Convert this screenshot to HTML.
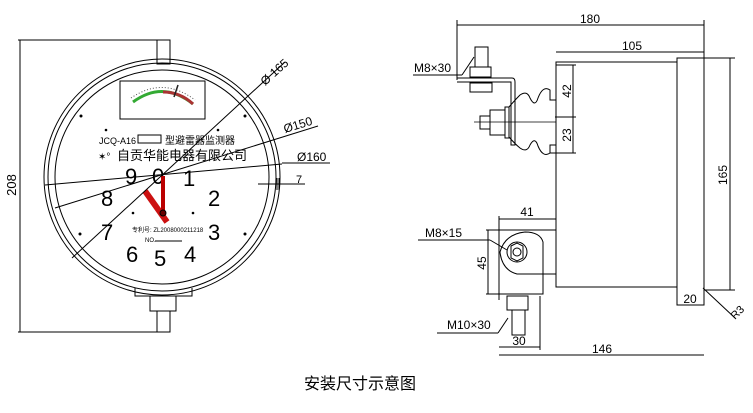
<!DOCTYPE html>
<html><head><meta charset="utf-8"><style>
html,body{margin:0;padding:0;background:#fff;}
svg{display:block;}
text{font-family:"Liberation Sans","Noto Sans CJK SC",sans-serif;fill:#000;}
</style></head><body>
<svg width="753" height="413" viewBox="0 0 753 413" xmlns="http://www.w3.org/2000/svg" fill="none" stroke="#000" stroke-width="1">
<line x1="20" y1="40" x2="20" y2="332"/>
<line x1="18" y1="40" x2="160" y2="40"/>
<line x1="18" y1="332" x2="160" y2="332"/>
<text x="16" y="185" font-size="13" stroke="none" transform="rotate(-90 16 185)" text-anchor="middle">208</text>
<rect x="157" y="40" width="13" height="24"/>
<circle cx="162" cy="177" r="118"/>
<circle cx="162" cy="177" r="114"/>
<circle cx="162" cy="177" r="107"/>
<rect x="120" y="81" width="85" height="38"/>
<path d="M133 102 Q163 80 193 104" stroke="#3a3" stroke-width="3"/>
<path d="M163 92 Q180 92 193 104" stroke="#a33" stroke-width="3"/>
<path d="M131 98 Q163 76 195 100" stroke="#555" stroke-dasharray="1 2"/>
<line x1="174" y1="97" x2="178" y2="85" stroke="#222" stroke-width="1.5"/>
<text x="99" y="144" font-size="9" stroke="none">JCQ-A16</text>
<rect x="138" y="135" width="23" height="8"/>
<text x="165" y="144" font-size="10" stroke="none">型避雷器监测器</text>
<text x="98" y="160" font-size="10" stroke="none">✶°</text>
<text x="117" y="160" font-size="13" stroke="none">自贡华能电器有限公司</text>
<g font-size="22" stroke="none">
<text x="125" y="184">9</text><text x="152" y="184">0</text><text x="183" y="186">1</text>
<text x="208" y="206">2</text><text x="101" y="206">8</text>
<text x="208" y="240">3</text><text x="101" y="240">7</text>
<text x="126" y="262">6</text><text x="154" y="266">5</text><text x="184" y="262">4</text>
</g>
<text x="132" y="232" font-size="6" stroke="none">专利号: ZL2008000211218</text>
<text x="145" y="242" font-size="6" stroke="none">NO.</text>
<line x1="155" y1="241" x2="182" y2="241"/>
<line x1="163" y1="213" x2="163" y2="176" stroke="#b00" stroke-width="4"/>
<line x1="145" y1="191" x2="167" y2="222" stroke="#c11" stroke-width="6"/>
<circle cx="163" cy="213" r="3" fill="#600"/>
<g fill="#000" stroke="none">
<circle cx="81" cy="116" r="1.5"/><circle cx="245" cy="116" r="1.5"/>
<circle cx="80" cy="234" r="1.5"/><circle cx="245" cy="234" r="1.5"/>
<circle cx="133" cy="213" r="1.3"/><circle cx="193" cy="213" r="1.3"/>
<circle cx="106" cy="130" r="1.3"/><circle cx="218" cy="130" r="1.3"/>
</g>
<path d="M135 288 L135 296 L192 296 L192 288"/>
<rect x="150" y="296" width="26" height="15"/>
<rect x="157" y="311" width="13" height="21"/>
<line x1="72" y1="258" x2="285" y2="62"/>
<text x="265" y="86" font-size="12" stroke="none" transform="rotate(-42 265 86)">Ø 165</text>
<line x1="55" y1="208" x2="318" y2="126"/>
<text x="285" y="133" font-size="12" stroke="none" transform="rotate(-17 285 133)">Ø150</text>
<line x1="45" y1="185" x2="282" y2="164"/>
<line x1="282" y1="163" x2="330" y2="163"/>
<text x="297" y="161" font-size="12" stroke="none">Ø160</text>
<line x1="258" y1="184" x2="305" y2="184"/>
<line x1="277" y1="178" x2="277" y2="190"/><line x1="279" y1="178" x2="279" y2="190"/>
<text x="296" y="183" font-size="11" stroke="none">7</text>
<line x1="457" y1="25" x2="704" y2="25"/>
<line x1="457" y1="20" x2="457" y2="80"/>
<line x1="704" y1="20" x2="704" y2="305"/>
<text x="590" y="23" font-size="12" stroke="none" text-anchor="middle">180</text>
<line x1="556" y1="52" x2="704" y2="52"/>
<text x="632" y="50" font-size="12" stroke="none" text-anchor="middle">105</text>
<rect x="556" y="62" width="121" height="225"/>
<rect x="677" y="58" width="27" height="247"/>
<line x1="704" y1="58" x2="735" y2="58"/><line x1="704" y1="290" x2="735" y2="290"/>
<line x1="730" y1="58" x2="730" y2="290"/>
<text x="727" y="175" font-size="12" stroke="none" transform="rotate(-90 727 175)" text-anchor="middle">165</text>
<line x1="573" y1="65" x2="573" y2="153"/>
<line x1="556" y1="65" x2="576" y2="65"/><line x1="555" y1="117" x2="576" y2="117"/><line x1="550" y1="153" x2="576" y2="153"/>
<text x="571" y="91" font-size="12" stroke="none" transform="rotate(-90 571 91)" text-anchor="middle">42</text>
<text x="571" y="135" font-size="12" stroke="none" transform="rotate(-90 571 135)" text-anchor="middle">23</text>
<rect x="475" y="47" width="13" height="20"/>
<rect x="470" y="67" width="21" height="10"/>
<path d="M457 78 L512 78 Q515 78 515 82 L515 145 L511 145 L511 82 L457 82"/>
<rect x="470" y="83" width="22" height="9"/>
<line x1="413" y1="75" x2="462" y2="75"/><line x1="462" y1="75" x2="474" y2="57"/>
<text x="414" y="72" font-size="12" stroke="none">M8×30</text>
<line x1="474" y1="122" x2="556" y2="122" stroke-width="0.8"/>
<rect x="480" y="116" width="10" height="13"/>
<rect x="490" y="110" width="15" height="25"/>
<rect x="505" y="107" width="4" height="31"/>
<path d="M509 107 Q515 100 520 95 Q527 90 530 98 Q535 108 538 98 Q543 85 550 90 L550 100 L556 100"/>
<path d="M509 137 Q515 144 520 148 Q527 153 530 145 Q535 136 538 146 Q543 158 550 153 L550 145 L556 145"/>
<line x1="499" y1="216" x2="499" y2="300"/>
<line x1="499" y1="219" x2="556" y2="219"/>
<text x="527" y="216" font-size="12" stroke="none" text-anchor="middle">41</text>
<path d="M486 230 L556 230 M486 294 L543 294 L543 242 Q540 232 525 232 Q505 234 500 252 Q502 270 517 274 L556 274"/>
<circle cx="517" cy="252" r="10"/>
<polygon points="511,246 517,243 523,246 523,258 517,261 511,258"/>
<circle cx="517" cy="252" r="4"/>
<line x1="488" y1="230" x2="488" y2="294"/>
<text x="486" y="263" font-size="12" stroke="none" transform="rotate(-90 486 263)" text-anchor="middle">45</text>
<line x1="418" y1="240" x2="490" y2="240"/><line x1="490" y1="240" x2="507" y2="250"/>
<text x="425" y="237" font-size="12" stroke="none">M8×15</text>
<rect x="507" y="296" width="21" height="14"/>
<rect x="512" y="310" width="13" height="25"/>
<line x1="437" y1="333" x2="498" y2="333"/><line x1="498" y1="333" x2="508" y2="318"/>
<text x="447" y="329" font-size="12" stroke="none">M10×30</text>
<line x1="499" y1="347" x2="540" y2="347"/>
<line x1="540" y1="296" x2="540" y2="350"/>
<text x="519" y="345" font-size="12" stroke="none" text-anchor="middle">30</text>
<line x1="499" y1="355" x2="704" y2="355"/>
<text x="602" y="353" font-size="12" stroke="none" text-anchor="middle">146</text>
<line x1="677" y1="305" x2="704" y2="305"/>
<text x="690" y="303" font-size="12" stroke="none" text-anchor="middle">20</text>
<line x1="703" y1="288" x2="735" y2="318"/>
<text x="735" y="320" font-size="11" stroke="none" transform="rotate(-45 735 320)">R3</text>
<text x="360" y="389" font-size="16" stroke="none" text-anchor="middle">安装尺寸示意图</text>
</svg>
</body></html>
